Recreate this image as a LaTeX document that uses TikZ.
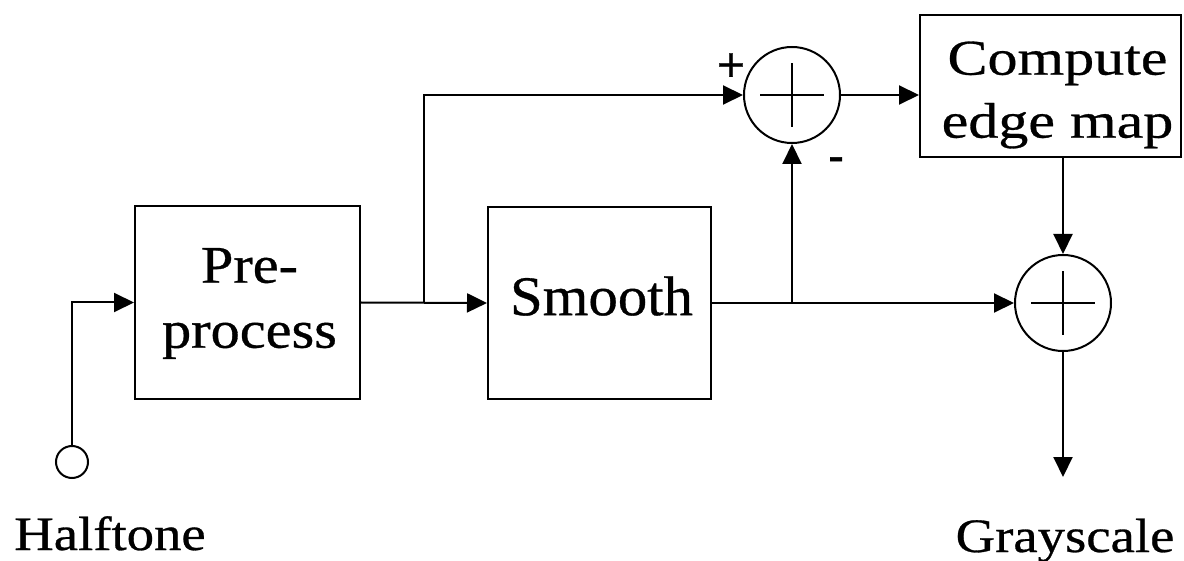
\documentclass[tikz,border=0pt]{standalone}
\usepackage{fontspec}
\setmainfont{Liberation Serif}
\newfontfamily\fpre[FakeStretch=1.10,FakeBold=0.6]{Liberation Serif}
\newfontfamily\fsmooth[FakeStretch=1.05,FakeBold=0.6]{Liberation Serif}
\newfontfamily\fcomp[FakeStretch=1.20,FakeBold=0.6]{Liberation Serif}
\newfontfamily\fio[FakeStretch=1.14,FakeBold=0.6]{Liberation Serif}
\newfontfamily\fsign[FakeBold=0.6]{Liberation Sans}
\usetikzlibrary{arrows.meta}
\tikzset{
  blockbox/.style={draw, rectangle, line width=2pt, inner sep=0pt},
  sumnode/.style={draw, circle, line width=2pt, minimum size=96pt, inner sep=0pt,
    path picture={\draw[line width=2pt]
      ([xshift=-32pt]path picture bounding box.center) -- ([xshift=32pt]path picture bounding box.center)
      ([yshift=-32pt]path picture bounding box.center) -- ([yshift=32pt]path picture bounding box.center);}},
  portnode/.style={draw, circle, line width=2pt, minimum size=32pt, inner sep=0pt},
  flow/.style={line width=2pt, -{Triangle[length=20pt,width=19pt]}},
  signlabel/.style={inner sep=0pt, anchor=base, font=\fsign\fontsize{48pt}{48pt}\selectfont},
  iolabel/.style={inner sep=0pt, anchor=base, font=\fio\fontsize{48pt}{58pt}\selectfont}
}
\begin{document}
\begin{tikzpicture}[x=1pt,y=-1pt]
\useasboundingbox (0,0) rectangle (1184,561);
% blocks
\node[blockbox, minimum width=225pt, minimum height=193pt] (pre) at (247.5,302.5) {};
\node[inner sep=0pt, align=center, font=\fpre\fontsize{53pt}{65pt}\selectfont] (pretext) at (249.5,303.5) {Pre-\\process};
\node[blockbox, minimum width=223pt, minimum height=192pt] (smooth) at (599.5,303) {};
\node[inner sep=0pt, font=\fsmooth\fontsize{56pt}{66pt}\selectfont] (smoothtext) at (601.5,296) {Smooth};
\node[blockbox, minimum width=261pt, minimum height=142pt] (compute) at (1050.5,86) {};
\node[inner sep=0pt, align=center, font=\fcomp\fontsize{50pt}{63pt}\selectfont] (computetext) at (1057.5,95) {Compute\\edge map};
% summing junctions
\node[sumnode] (sum1) at (792,95) {};
\node[sumnode] (sum2) at (1063,303) {};
% input port
\node[portnode] (in) at (72,462) {};
% coordinates
\coordinate (j1) at (424,302.5);
\coordinate (j2) at (sum1 |- smooth.east);
\coordinate (out) at (1063,477);
% connectors
\draw[flow] (in.north) |- (pre.west);
\draw[flow] (pre.east) -- (smooth.west);
\draw[flow] (j1) |- (sum1.west);
\draw[flow] (smooth.east) -- (sum2.west);
\draw[flow] (j2) -- (sum1.south);
\draw[flow] (sum1.east) -- (sum1.east -| compute.west);
\draw[flow] (compute.south -| sum2) -- (sum2.north);
\draw[flow] (sum2.south) -- (out);
% sign labels
\node[signlabel] (plus) at (731,81) {+};
\node[signlabel] (minus) at (836,172) {-};
% io labels
\node[iolabel] (halftone) at (110,550) {Halftone};
\node[iolabel] (grayscale) at (1065,552) {Grayscale};
\end{tikzpicture}
\end{document}
